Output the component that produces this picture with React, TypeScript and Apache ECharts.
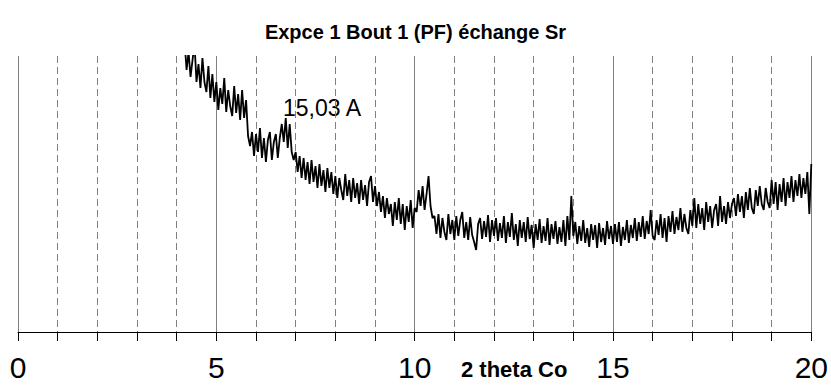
import React, { useEffect, useRef } from "react";
import * as echarts from "echarts";

const title = "Expce 1 Bout 1 (PF) échange Sr";
const xAxisName = "2 theta Co";
const annotation = "15,03 A";
const xTicks = [0, 5, 10, 15, 20];

// intensity (arbitrary units) vs 2 theta Co
const seg4to6: [number, number][] = [
  [4.2, 290], [4.25, 262], [4.3, 280], [4.35, 255], [4.4, 272], [4.45, 288], [4.5, 250], [4.55, 268],
  [4.6, 244], [4.65, 274], [4.7, 250], [4.75, 240], [4.8, 266], [4.85, 234], [4.9, 258], [4.95, 230],
  [5.0, 250], [5.05, 222], [5.1, 244], [5.15, 228], [5.2, 254], [5.25, 220], [5.3, 242], [5.35, 226],
  [5.4, 216], [5.45, 246], [5.5, 219], [5.55, 238], [5.6, 212], [5.65, 242], [5.7, 214], [5.75, 232],
  [5.8, 196], [5.85, 186], [5.9, 200], [5.95, 176],
];
const seg6to8: [number, number][] = [
  [6.0, 198], [6.05, 180], [6.1, 204], [6.15, 174], [6.2, 194], [6.25, 170], [6.3, 192], [6.35, 200],
  [6.4, 172], [6.45, 190], [6.5, 198], [6.55, 174], [6.6, 194], [6.65, 208], [6.7, 190], [6.75, 214],
  [6.8, 184], [6.85, 208], [6.9, 180], [6.95, 172], [7.0, 180], [7.05, 160], [7.1, 176], [7.15, 154],
  [7.2, 174], [7.25, 152], [7.3, 170], [7.35, 148], [7.4, 172], [7.45, 150], [7.5, 166], [7.55, 144],
  [7.6, 168], [7.65, 146], [7.7, 162], [7.75, 140], [7.8, 164], [7.85, 144], [7.9, 160], [7.95, 138],
];
const seg8to10: [number, number][] = [
  [8.0, 156], [8.05, 134], [8.1, 154], [8.15, 142], [8.2, 132], [8.25, 158], [8.3, 136], [8.35, 152],
  [8.4, 130], [8.45, 154], [8.5, 134], [8.55, 149], [8.6, 128], [8.65, 152], [8.7, 132], [8.75, 147],
  [8.8, 126], [8.85, 150], [8.9, 156], [8.95, 130], [9.0, 146], [9.05, 126], [9.1, 140], [9.15, 120],
  [9.2, 136], [9.25, 114], [9.3, 134], [9.35, 118], [9.4, 128], [9.45, 106], [9.5, 130], [9.55, 112],
  [9.6, 134], [9.65, 108], [9.7, 128], [9.75, 102], [9.8, 126], [9.85, 110], [9.9, 132], [9.95, 104],
];
const seg10to12: [number, number][] = [
  [10.0, 124], [10.05, 120], [10.1, 142], [10.15, 126], [10.2, 146], [10.25, 122], [10.3, 138], [10.35, 156],
  [10.4, 126], [10.45, 114], [10.5, 116], [10.55, 98], [10.6, 118], [10.65, 94], [10.7, 114], [10.75, 100],
  [10.8, 92], [10.85, 118], [10.9, 98], [10.95, 112], [11.0, 92], [11.05, 116], [11.1, 96], [11.15, 112],
  [11.2, 120], [11.25, 94], [11.3, 110], [11.35, 92], [11.4, 115], [11.45, 97], [11.5, 90], [11.55, 82],
  [11.6, 108], [11.65, 114], [11.7, 93], [11.75, 111], [11.8, 95], [11.85, 117], [11.9, 90], [11.95, 112],
];
const seg12to14: [number, number][] = [
  [12.0, 96], [12.05, 114], [12.1, 91], [12.15, 109], [12.2, 94], [12.25, 116], [12.3, 89], [12.35, 110],
  [12.4, 95], [12.45, 119], [12.5, 92], [12.55, 108], [12.6, 86], [12.65, 112], [12.7, 94], [12.75, 110],
  [12.8, 90], [12.85, 115], [12.9, 93], [12.95, 107], [13.0, 84], [13.05, 108], [13.1, 92], [13.15, 113],
  [13.2, 89], [13.25, 106], [13.3, 91], [13.35, 114], [13.4, 87], [13.45, 108], [13.5, 93], [13.55, 111],
  [13.6, 88], [13.65, 105], [13.7, 90], [13.75, 112], [13.8, 86], [13.85, 116], [13.9, 92], [13.95, 136],
];
const seg14to16: [number, number][] = [
  [14.0, 96], [14.05, 110], [14.1, 88], [14.15, 106], [14.2, 91], [14.25, 112], [14.3, 89], [14.35, 104],
  [14.4, 85], [14.45, 108], [14.5, 92], [14.55, 107], [14.6, 84], [14.65, 109], [14.7, 90], [14.75, 104],
  [14.8, 87], [14.85, 111], [14.9, 93], [14.95, 106], [15.0, 88], [15.05, 108], [15.1, 90], [15.15, 110],
  [15.2, 86], [15.25, 105], [15.3, 92], [15.35, 112], [15.4, 89], [15.45, 107], [15.5, 94], [15.55, 114],
  [15.6, 91], [15.65, 110], [15.7, 95], [15.75, 116], [15.8, 93], [15.85, 111], [15.9, 98], [15.95, 122],
];
const seg16to18: [number, number][] = [
  [16.0, 96], [16.05, 92], [16.1, 112], [16.15, 97], [16.2, 118], [16.25, 94], [16.3, 114], [16.35, 90],
  [16.4, 116], [16.45, 100], [16.5, 121], [16.55, 98], [16.6, 115], [16.65, 102], [16.7, 124], [16.75, 100],
  [16.8, 118], [16.85, 104], [16.9, 98], [16.95, 122], [17.0, 106], [17.05, 134], [17.1, 104], [17.15, 128],
  [17.2, 108], [17.25, 124], [17.3, 102], [17.35, 130], [17.4, 110], [17.45, 126], [17.5, 104], [17.55, 122],
  [17.6, 128], [17.65, 106], [17.7, 136], [17.75, 110], [17.8, 126], [17.85, 108], [17.9, 130], [17.95, 114],
];
const seg18to20: [number, number][] = [
  [18.0, 128], [18.05, 134], [18.1, 116], [18.15, 138], [18.2, 120], [18.25, 136], [18.3, 114], [18.35, 140],
  [18.4, 122], [18.45, 144], [18.5, 124], [18.55, 118], [18.6, 142], [18.65, 126], [18.7, 146], [18.75, 128],
  [18.8, 122], [18.85, 144], [18.9, 130], [18.95, 124], [19.0, 152], [19.05, 128], [19.1, 150], [19.15, 122],
  [19.2, 148], [19.25, 130], [19.3, 154], [19.35, 126], [19.4, 150], [19.45, 134], [19.5, 156], [19.55, 130],
  [19.6, 152], [19.65, 136], [19.7, 158], [19.75, 134], [19.8, 154], [19.85, 138], [19.9, 160], [19.95, 118],
  [20.0, 168],
];

const FONT = "'Liberation Sans', Arial, sans-serif";

export default function App() {
  const ref = useRef<HTMLDivElement>(null);
  useEffect(() => {
    if (!ref.current) return;
    const chart = echarts.init(ref.current, null, { renderer: "svg" });
    const data = [
      ...seg4to6, ...seg6to8, ...seg8to10, ...seg10to12,
      ...seg12to14, ...seg14to16, ...seg16to18, ...seg18to20,
    ];
    chart.setOption({
      animation: false,
      backgroundColor: "#ffffff",
      title: {
        text: title,
        left: "center",
        top: 17,
        textStyle: { fontFamily: FONT, fontSize: 20, fontWeight: "bold", color: "#000" },
      },
      grid: { left: 18, right: 18, top: 56, bottom: 58 },
      xAxis: {
        type: "value",
        min: xTicks[0],
        max: xTicks[xTicks.length - 1],
        interval: 5,
        axisLine: { show: true, onZero: false, lineStyle: { color: "#000", width: 1 } },
        axisTick: { show: true, length: 9, lineStyle: { color: "#000" } },
        minorTick: { show: true, splitNumber: 5, length: 9, lineStyle: { color: "#000" } },
        splitLine: { show: true, lineStyle: { color: "#808080", width: 1 } },
        minorSplitLine: { show: true, lineStyle: { color: "#808080", width: 1, type: [7, 4] } },
        axisLabel: {
          fontFamily: FONT,
          fontSize: 30,
          color: "#000",
          margin: 20,
        },
      },
      yAxis: {
        type: "value",
        min: 0,
        max: 276,
        show: false,
        splitLine: { show: false },
      },
      graphic: [
        {
          type: "text",
          left: 461,
          top: 358,
          style: { text: xAxisName, fontFamily: FONT, fontSize: 22, fontWeight: "bold", fill: "#000" },
        },
        {
          type: "text",
          left: 283,
          top: 96,
          style: { text: annotation, fontFamily: FONT, fontSize: 23, fill: "#000" },
        },
      ],
      series: [
        {
          type: "line",
          data,
          showSymbol: false,
          clip: true,
          lineStyle: { color: "#000", width: 1.8 },
        },
      ],
    });
    return () => chart.dispose();
  }, []);
  return <div ref={ref} style={{ width: 831, height: 390, position: "fixed", left: 0, top: 0 }} />;
}
